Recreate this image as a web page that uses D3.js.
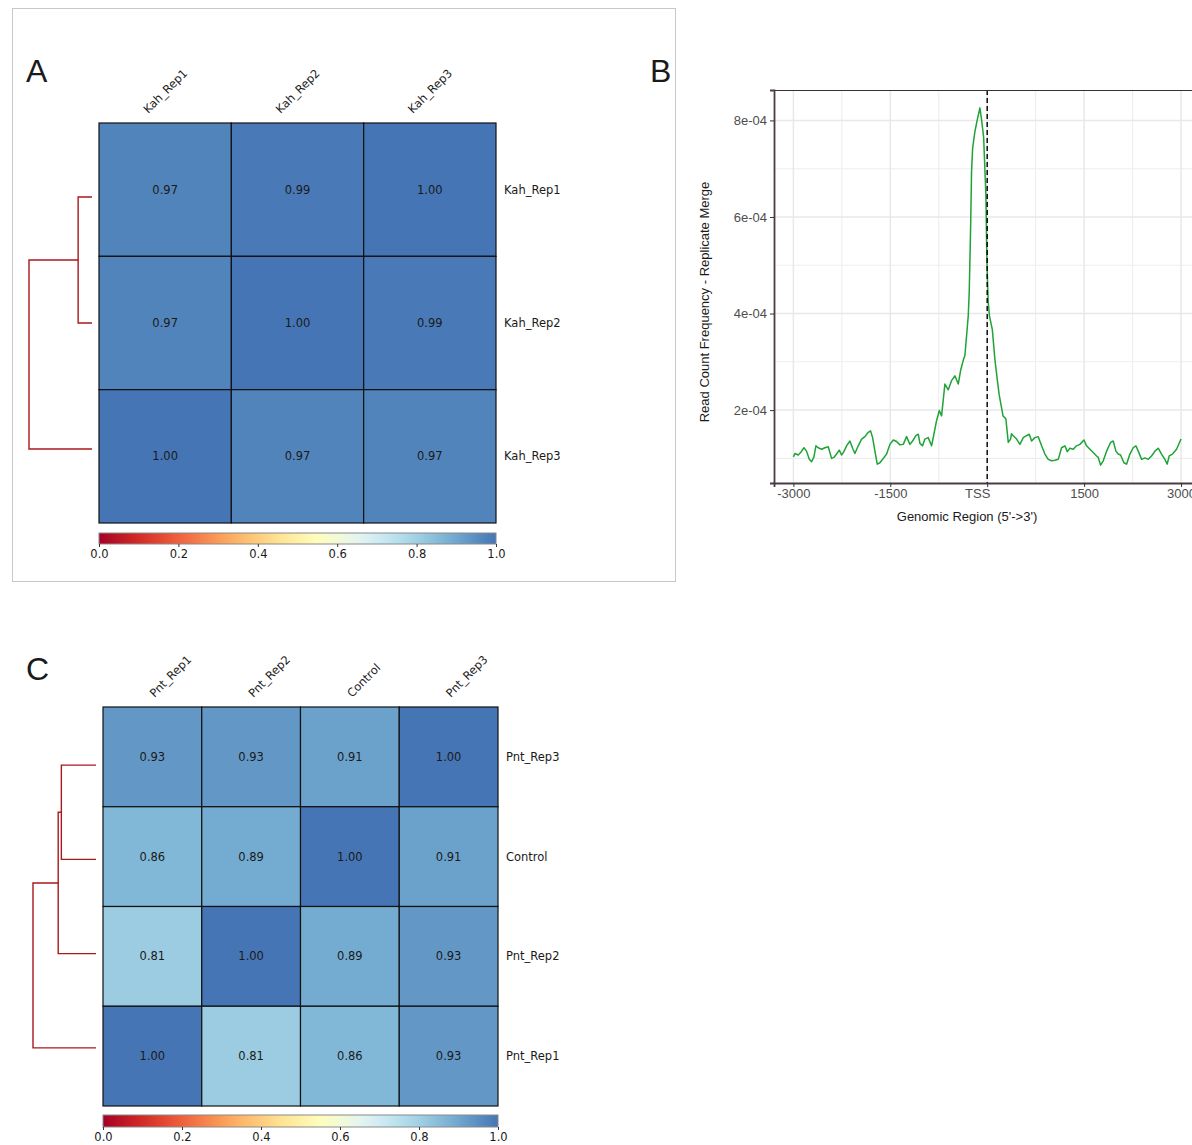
<!DOCTYPE html>
<html>
<head>
<meta charset="utf-8">
<style>
  body { margin: 0; background: #fff; }
  svg { display: block; }
</style>
<script src="https://d3js.org/d3.v7.min.js"></script>
</head>
<body>
<div id="chart"></div>
<script>
// ---- panel A: Kah replicates correlation ----
const kahCols = ["Kah_Rep1", "Kah_Rep2", "Kah_Rep3"];
const kahRows = ["Kah_Rep1", "Kah_Rep2", "Kah_Rep3"];
const kahValues = [
  [0.97, 0.99, 1.00],
  [0.97, 1.00, 0.99],
  [1.00, 0.97, 0.97]
];
// [childA, childB, relative height]; new nodes get index n, n+1, ...
const kahMerges = [[0, 1, 0.22], [3, 2, 1.0]];

// ---- panel C: Pnt replicates + control ----
const pntCols = ["Pnt_Rep1", "Pnt_Rep2", "Control", "Pnt_Rep3"];
const pntRows = ["Pnt_Rep3", "Control", "Pnt_Rep2", "Pnt_Rep1"];
const pntValues = [
  [0.93, 0.93, 0.91, 1.00],
  [0.86, 0.89, 1.00, 0.91],
  [0.81, 1.00, 0.89, 0.93],
  [1.00, 0.81, 0.86, 0.93]
];
const pntMerges = [[0, 1, 0.55], [4, 2, 0.6], [5, 3, 1.0]];

const colorbarTicks = [0, 0.2, 0.4, 0.6, 0.8, 1.0];

// ---- panel B: TSS profile (read count frequency, units of 1e-4) ----
const freqUnit = 1e-4;
const profilePos = [
  -3000, -2976, -2925, -2888, -2837, -2796, -2754, -2718, -2682, -2651,
  -2615, -2563, -2512, -2460, -2409, -2373, -2331, -2290, -2254, -2218,
  -2177, -2125, -2083, -2048, -1996, -1944, -1893, -1841, -1805, -1774,
  -1738, -1702, -1661, -1619, -1557, -1506, -1454, -1403, -1351, -1299,
  -1248, -1196, -1155, -1103, -1067, -1041, -1000, -964, -913, -861,
  -825, -784, -742, -706, -655, -603, -552, -500, -448, -412,
  -371, -345, -319, -293, -278, -268, -257, -242, -226, -190,
  -154, -113, -87, -55, -20, -5, 16, 35, 80, 119,
  155, 185, 245, 289, 326, 362, 376, 403, 455, 506,
  558, 609, 651, 687, 738, 790, 842, 893, 945, 996,
  1048, 1100, 1151, 1203, 1239, 1280, 1332, 1383, 1435, 1497,
  1538, 1590, 1641, 1693, 1719, 1755, 1796, 1848, 1910, 1951,
  1992, 2028, 2064, 2116, 2157, 2209, 2260, 2302, 2338, 2390,
  2441, 2493, 2544, 2596, 2647, 2699, 2750, 2786, 2817, 2869,
  2931, 3000
];
const profileFreq = [
  1.03, 1.10, 1.07, 1.12, 1.22, 1.15, 0.98, 0.93, 1.03, 1.26,
  1.22, 1.19, 1.22, 1.24, 1.00, 1.02, 1.09, 1.17, 1.07, 1.14,
  1.26, 1.36, 1.21, 1.10, 1.26, 1.40, 1.45, 1.54, 1.57, 1.43,
  1.15, 0.88, 0.91, 0.98, 1.09, 1.29, 1.38, 1.35, 1.28, 1.29,
  1.45, 1.29, 1.36, 1.47, 1.50, 1.31, 1.26, 1.40, 1.43, 1.26,
  1.50, 1.78, 1.99, 1.88, 2.54, 2.42, 2.61, 2.71, 2.54, 2.82,
  3.03, 3.13, 3.54, 3.96, 4.45, 5.07, 5.76, 6.94, 7.42, 7.77,
  8.01, 8.26, 8.01, 7.65, 6.45, 5.10, 4.24, 3.95, 3.66, 3.05,
  2.64, 2.32, 1.88, 1.82, 1.33, 1.40, 1.51, 1.47, 1.40, 1.29,
  1.43, 1.47, 1.50, 1.36, 1.43, 1.45, 1.26, 1.09, 0.98, 0.95,
  0.96, 0.98, 1.22, 1.26, 1.14, 1.21, 1.19, 1.26, 1.29, 1.38,
  1.26, 1.19, 1.12, 1.05, 1.02, 0.86, 0.95, 1.15, 1.33, 1.36,
  1.15, 1.09, 1.07, 0.91, 0.88, 1.09, 1.22, 1.26, 1.15, 0.98,
  1.01, 0.98, 1.05, 1.15, 1.21, 1.09, 0.98, 0.88, 1.05, 1.09,
  1.19, 1.40
];
const xTicks = [-3000, -1500, 0, 1500, 3000];
const xTickLabels = ["-3000", "-1500", "TSS", "1500", "3000"];
const xMinor = [-2250, -750, 750, 2250];
const yTicks = [2, 4, 6, 8];
const yMinor = [1, 3, 5, 7];

// RdYlBu without its darkest blue end
const palette = ["#a50026", "#d73027", "#f46d43", "#fdae61", "#fee090",
                 "#ffffbf", "#e0f3f8", "#abd9e9", "#74add1", "#4575b4"];
const color = d3.scaleLinear()
  .domain(palette.map((c, i) => i / (palette.length - 1)))
  .range(palette)
  .interpolate(d3.interpolateRgb);

const svg = d3.select("#chart").append("svg")
  .attr("width", 1192).attr("height", 1145);

const defs = svg.append("defs");
const grad = defs.append("linearGradient").attr("id", "cbar")
  .attr("x1", "0%").attr("x2", "100%").attr("y1", "0%").attr("y2", "0%");
d3.range(0, 1.0001, 0.05).forEach(t => {
  grad.append("stop").attr("offset", (t * 100) + "%").attr("stop-color", color(t));
});

function panelLetter(txt, x, y) {
  svg.append("text").attr("x", x).attr("y", y)
    .attr("font-family", "Liberation Sans, Arial, sans-serif")
    .attr("font-size", 32).attr("fill", "#1a1a1a").text(txt);
}

function drawHeatmap(cfg) {
  const g = svg.append("g").attr("font-family", "DejaVu Sans, sans-serif");
  const xb = d3.scaleBand().domain(cfg.cols).range([cfg.x0, cfg.x0 + cfg.w]);
  const yb = d3.scaleBand().domain(cfg.rows).range([cfg.y0, cfg.y0 + cfg.h]);

  const cells = [];
  cfg.rows.forEach((r, i) => cfg.cols.forEach((c, j) => cells.push({ r, c, v: cfg.values[i][j] })));

  g.selectAll("rect.cell").data(cells).join("rect")
    .attr("class", "cell")
    .attr("x", d => xb(d.c)).attr("y", d => yb(d.r))
    .attr("width", xb.bandwidth()).attr("height", yb.bandwidth())
    .attr("fill", d => color(d.v))
    .attr("stroke", "#111").attr("stroke-width", 1.2);

  g.selectAll("text.val").data(cells).join("text")
    .attr("class", "val")
    .attr("x", d => xb(d.c) + xb.bandwidth() / 2)
    .attr("y", d => yb(d.r) + yb.bandwidth() / 2)
    .attr("dy", "0.35em").attr("text-anchor", "middle")
    .attr("font-size", 11.5).attr("fill", "#1a1a1a")
    .text(d => d.v.toFixed(2));

  // column labels, rotated
  g.selectAll("text.col").data(cfg.cols).join("text")
    .attr("class", "col")
    .attr("transform", c => `translate(${xb(c) + xb.bandwidth() / 2 + cfg.colOffset},${cfg.y0 - 9}) rotate(-45)`)
    .attr("font-size", 11.5).attr("fill", "#1a1a1a")
    .text(c => c);

  // row labels
  g.selectAll("text.row").data(cfg.rows).join("text")
    .attr("class", "row")
    .attr("x", cfg.x0 + cfg.w + 8)
    .attr("y", r => yb(r) + yb.bandwidth() / 2)
    .attr("dy", "0.35em")
    .attr("font-size", 11.5).attr("fill", "#1a1a1a")
    .text(r => r);

  // dendrogram
  const mid = cfg.y0 + cfg.h / 2;
  const hx = d3.scaleLinear().domain([0, 1]).range([cfg.leafX, cfg.rootX]);
  const nodes = cfg.rows.map(r => ({ x: cfg.leafX, y: mid + (yb(r) + yb.bandwidth() / 2 - mid) * 0.945 }));
  cfg.merges.forEach(([a, b, hgt]) => {
    const na = nodes[a], nb = nodes[b];
    const x = hx(hgt);
    g.append("path")
      .attr("d", `M${na.x},${na.y}H${x}V${nb.y}H${nb.x}`)
      .attr("fill", "none").attr("stroke", "#a8181c").attr("stroke-width", 1.4);
    nodes.push({ x, y: (na.y + nb.y) / 2 });
  });

  // colorbar
  const cx = d3.scaleLinear().domain([0, 1]).range([cfg.x0, cfg.x0 + cfg.w]);
  g.append("rect")
    .attr("x", cfg.x0).attr("y", cfg.cbY)
    .attr("width", cfg.w).attr("height", cfg.cbH)
    .attr("fill", "url(#cbar)").attr("stroke", "#8a8a8a").attr("stroke-width", 1);
  const ax = g.append("g")
    .attr("transform", `translate(0,${cfg.cbY + cfg.cbH})`)
    .call(d3.axisBottom(cx).tickValues(colorbarTicks).tickFormat(d3.format(".1f")).tickSize(3).tickPadding(3));
  ax.select(".domain").remove();
  ax.selectAll("line").attr("stroke", "#333");
  ax.selectAll("text").attr("font-family", "DejaVu Sans, sans-serif").attr("font-size", 11.5).attr("fill", "#1a1a1a");
}

// panel A frame
svg.append("rect").attr("x", 12.5).attr("y", 8.5).attr("width", 663).attr("height", 573)
  .attr("fill", "none").attr("stroke", "#c8c8c8");

drawHeatmap({
  cols: kahCols, rows: kahRows, values: kahValues, merges: kahMerges,
  x0: 99, y0: 123, w: 397, h: 400, colOffset: -17,
  leafX: 92, rootX: 29, cbY: 533, cbH: 11
});

drawHeatmap({
  cols: pntCols, rows: pntRows, values: pntValues, merges: pntMerges,
  x0: 103, y0: 707, w: 395, h: 399, colOffset: 2,
  leafX: 96, rootX: 33, cbY: 1115, cbH: 12
});

panelLetter("A", 26, 82);
panelLetter("B", 650, 82);
panelLetter("C", 26, 680);

// ---- panel B ----
(function drawProfile() {
  const left = 774, right = 1200.4, top = 90, bottom = 483;
  const pts = profilePos.map((p, i) => ({ x: p, y: profileFreq[i] * freqUnit }));
  const xExt = d3.extent(pts, d => d.x), yExt = d3.extent(pts, d => d.y);
  const xPad = (xExt[1] - xExt[0]) * 0.05, yPad = (yExt[1] - yExt[0]) * 0.05;
  const x = d3.scaleLinear().domain([xExt[0] - xPad, xExt[1] + xPad]).range([left, right]);
  const y = d3.scaleLinear().domain([yExt[0] - yPad, yExt[1] + yPad]).range([bottom, top]);

  const g = svg.append("g").attr("font-family", "Liberation Sans, Arial, sans-serif");

  // grid
  g.selectAll("line.xminor").data(xMinor).join("line")
    .attr("x1", d => x(d)).attr("x2", d => x(d)).attr("y1", top).attr("y2", bottom)
    .attr("stroke", "#eeeeee").attr("stroke-width", 1.1);
  g.selectAll("line.yminor").data(yMinor).join("line")
    .attr("y1", d => y(d * freqUnit)).attr("y2", d => y(d * freqUnit)).attr("x1", left).attr("x2", right)
    .attr("stroke", "#eeeeee").attr("stroke-width", 1.1);
  g.selectAll("line.xmajor").data(xTicks).join("line")
    .attr("x1", d => x(d)).attr("x2", d => x(d)).attr("y1", top).attr("y2", bottom)
    .attr("stroke", "#e8e8e8").attr("stroke-width", 1.5);
  g.selectAll("line.ymajor").data(yTicks).join("line")
    .attr("y1", d => y(d * freqUnit)).attr("y2", d => y(d * freqUnit)).attr("x1", left).attr("x2", right)
    .attr("stroke", "#e8e8e8").attr("stroke-width", 1.5);

  // profile line
  g.append("path").datum(pts)
    .attr("d", d3.line().x(d => x(d.x)).y(d => y(d.y)))
    .attr("fill", "none").attr("stroke", "#1fa336").attr("stroke-width", 1.5)
    .attr("stroke-linejoin", "round");

  // TSS marker
  g.append("line")
    .attr("x1", x(0)).attr("x2", x(0)).attr("y1", top).attr("y2", bottom)
    .attr("stroke", "#000").attr("stroke-width", 1.4).attr("stroke-dasharray", "5,3");

  // frame
  g.append("line").attr("x1", left).attr("x2", right).attr("y1", top + 0.5).attr("y2", top + 0.5)
    .attr("stroke", "#333").attr("stroke-width", 1);

  const ay = g.append("g").attr("transform", `translate(${left},0)`)
    .call(d3.axisLeft(y).tickValues(yTicks.map(d => d * freqUnit))
      .tickFormat(d => Math.round(d / freqUnit) + "e-04").tickSize(4).tickPadding(3));
  const axb = g.append("g").attr("transform", `translate(0,${bottom})`)
    .call(d3.axisBottom(x).tickValues(xTicks)
      .tickFormat((d, i) => xTickLabels[i]).tickSize(4).tickPadding(2));
  [ay, axb].forEach(a => {
    a.select(".domain").attr("stroke", "#4a3b45").attr("stroke-width", 1.8);
    a.selectAll(".tick line").attr("stroke", "#333");
    a.selectAll(".tick text").attr("font-family", "Liberation Sans, Arial, sans-serif")
      .attr("font-size", 13).attr("fill", "#4d4d4d");
  });
  axb.selectAll(".tick text").filter(d => d === 0).attr("dx", -10);

  g.append("text").attr("x", 967).attr("y", 521).attr("text-anchor", "middle")
    .attr("font-size", 13).attr("fill", "#1a1a1a").text("Genomic Region (5'->3')");
  g.append("text").attr("transform", "translate(709,302) rotate(-90)").attr("text-anchor", "middle")
    .attr("font-size", 13).attr("fill", "#1a1a1a").text("Read Count Frequency - Replicate Merge");
})();
</script>
</body>
</html>
